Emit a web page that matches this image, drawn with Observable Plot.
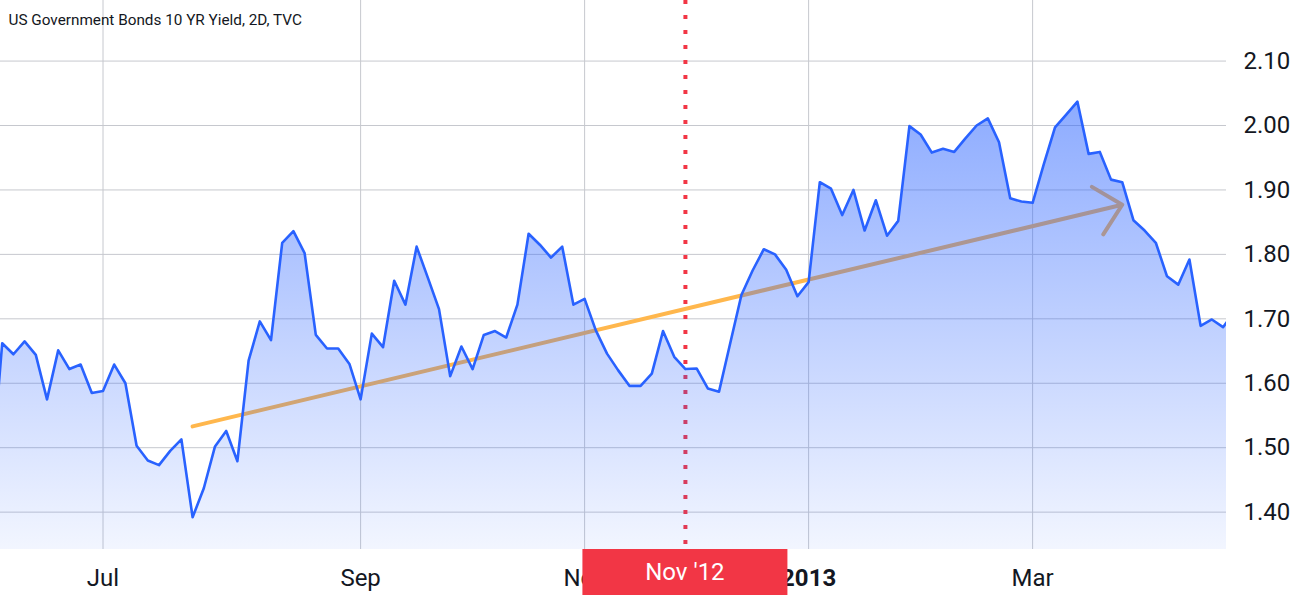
<!DOCTYPE html>
<html>
<head>
<meta charset="utf-8">
<script src="https://cdn.jsdelivr.net/npm/d3@7"></script>
<script src="https://cdn.jsdelivr.net/npm/@observablehq/plot@0.6"></script>
<style>
  html, body { margin: 0; padding: 0; background: #ffffff; }
  #chart { width: 1302px; height: 602px; overflow: hidden; }
</style>
</head>
<body>
<div id="chart"></div>
<script>
// ---- data (2-day bars, index -1 .. 110) ----
const title = "US Government Bonds 10 YR Yield, 2D, TVC";
const barStart = -1;
const yields = [
  1.45,
  1.662, 1.645, 1.665, 1.644, 1.575, 1.651, 1.622, 1.629, 1.585, 1.588,
  1.629, 1.600, 1.503, 1.480, 1.473, 1.495, 1.513, 1.392, 1.437, 1.502,
  1.526, 1.479, 1.635, 1.696, 1.667, 1.818, 1.836, 1.802, 1.675, 1.654,
  1.654, 1.630, 1.575, 1.677, 1.656, 1.759, 1.722, 1.812, 1.764, 1.715,
  1.611, 1.657, 1.622, 1.675, 1.681, 1.671, 1.722, 1.832, 1.815, 1.795,
  1.812, 1.722, 1.731, 1.682, 1.646, 1.620, 1.596, 1.596, 1.615, 1.681,
  1.641, 1.622, 1.623, 1.592, 1.587, 1.662, 1.737, 1.775, 1.808, 1.800,
  1.776, 1.735, 1.757, 1.912, 1.902, 1.861, 1.900, 1.837, 1.884, 1.829,
  1.852, 1.999, 1.986, 1.958, 1.964, 1.959, 1.980, 2.000, 2.011, 1.974,
  1.887, 1.882, 1.880, 1.940, 1.997, 2.017, 2.037, 1.956, 1.959, 1.916,
  1.912, 1.853, 1.837, 1.818, 1.766, 1.753, 1.792, 1.689, 1.699, 1.687,
  1.71
];
const monthTicks = [9, 32, 52, 72, 92];
const monthLabels = ["Jul", "Sep", "Nov", "2013", "Mar"];
const yTicks = [1.4, 1.5, 1.6, 1.7, 1.8, 1.9, 2.0, 2.1];
const crossBar = 61;
const crossLabel = "Nov '12";
const trendFrom = [17, 1.533];
const trendTo = [100, 1.877];

// ---- build ----
const data = yields.map((v, k) => ({i: barStart + k, v}));
const yDomain = [1.342, 2.194];
const xDomain = [-0.152, 109.31];

const crosshairLabel = (index, scales, values, dims) => {
  const cx = scales.x(crossBar);
  const top = dims.height - dims.marginBottom;
  const g = d3.create("svg:g");
  g.append("rect")
    .attr("x", cx - 102.5).attr("y", top).attr("width", 205).attr("height", 46)
    .attr("fill", "#f23645");
  g.append("text")
    .attr("x", cx).attr("y", top + 25)
    .attr("text-anchor", "middle").attr("dominant-baseline", "middle")
    .attr("fill", "#ffffff").attr("font-size", 24)
    .text(crossLabel);
  return g.node();
};

const svg = Plot.plot({
  width: 1302,
  height: 602,
  marginLeft: 0,
  marginRight: 76,
  marginTop: 0,
  marginBottom: 53,
  style: {fontFamily: "Roboto, sans-serif", background: "#ffffff", color: "#131722"},
  x: {type: "linear", domain: xDomain},
  y: {domain: yDomain},
  marks: [
    Plot.gridY(yTicks, {stroke: "#c6c8ce", strokeOpacity: 1, strokeWidth: 1}),
    Plot.gridX(monthTicks, {stroke: "#c6c8ce", strokeOpacity: 1, strokeWidth: 1}),
    Plot.ruleX([crossBar], {stroke: "#f23645", strokeWidth: 4, strokeDasharray: "4 11"}),
    Plot.arrow([{x1: trendFrom[0], y1: trendFrom[1], x2: trendTo[0], y2: trendTo[1]}], {
      x1: "x1", y1: "y1", x2: "x2", y2: "y2",
      stroke: "#ffb74d", strokeWidth: 4, headLength: 13.2, headAngle: 88,
      strokeLinecap: "round", strokeLinejoin: "round"
    }),
    Plot.areaY(data, {x: "i", y1: yDomain[0], y2: "v", fill: "url(#areaGrad)", clip: "frame"}),
    Plot.line(data, {x: "i", y: "v", stroke: "#2962ff", strokeWidth: 2.6, clip: "frame", strokeLinejoin: "round"}),
    Plot.axisY({anchor: "right", ticks: yTicks, tickFormat: d3.format(".2f"), tickSize: 0, tickPadding: 17, fontSize: 24, fill: "#131722"}),
    Plot.axisX({ticks: monthTicks, tickFormat: (d) => monthLabels[monthTicks.indexOf(d)], tickSize: 0, tickPadding: 19, fontSize: 24, fill: "#131722"}),
    crosshairLabel,
    Plot.text([title], {frameAnchor: "top-left", dx: 8, dy: 20, lineAnchor: "middle", textAnchor: "start", fontSize: 15.3, fill: "#131722"})
  ]
});

d3.select(svg).insert("defs", ":first-child").html(
  '<linearGradient id="areaGrad" gradientUnits="userSpaceOnUse" x1="0" y1="0" x2="0" y2="549">' +
  '<stop offset="0" stop-color="#2962ff" stop-opacity="0.64"/>' +
  '<stop offset="1" stop-color="#2962ff" stop-opacity="0.06"/>' +
  '</linearGradient>'
);
d3.select(svg).selectAll("text").filter(function() { return this.textContent === "2013"; })
  .attr("font-weight", "bold");

document.getElementById("chart").appendChild(svg);
</script>
</body>
</html>
